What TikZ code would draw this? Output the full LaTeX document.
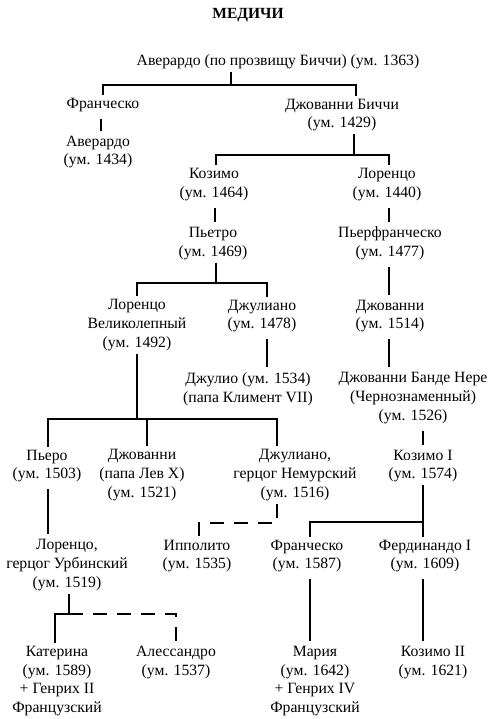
\documentclass[tikz,border=0pt]{standalone}
\usepackage{fontspec}
\setmainfont{Liberation Serif}
\begin{document}
\begin{tikzpicture}[x=1pt,y=-1pt,
  every node/.style={font=\fontsize{15.7}{18.6}\selectfont, align=center, inner xsep=0pt, inner ysep=3pt},
  conn/.style={line width=1.5pt},
  vconn/.style={line width=1.5pt, shorten <=4pt, shorten >=2pt},
  dconn/.style={line width=1.5pt, dash pattern=on 14pt off 10pt}]
\path[use as bounding box] (0,0) rectangle (495,719);

\node[font=\fontsize{15.5}{18}\selectfont\bfseries] (title) at (248,15) {МЕДИЧИ};
\node (top) at (278,62) {Аверардо (по прозвищу Биччи) (ум. 1363)};
\node (fr1) at (103,105) {Франческо};
\node (gb) at (342,115) {Джованни Биччи\\(ум. 1429)};
\node (av2) at (98,152) {Аверардо\\(ум. 1434)};
\node (koz) at (214,184.5) {Козимо\\(ум. 1464)};
\node (lor1) at (387,184.5) {Лоренцо\\(ум. 1440)};
\node (piet) at (213,243.5) {Пьетро\\(ум. 1469)};
\node (pierf) at (390,243.5) {Пьерфранческо\\(ум. 1477)};
\node (lorv) at (137,325) {Лоренцо\\Великолепный\\(ум. 1492)};
\node (jul1) at (262,316) {Джулиано\\(ум. 1478)};
\node (giov2) at (390,316) {Джованни\\(ум. 1514)};
\node (julio) at (248,389) {Джулио (ум. 1534)\\(папа Климент VII)};
\node (gbn) at (413,398) {Джованни Банде Нере\\(Чернознаменный)\\(ум. 1526)};
\node (piero) at (47,466) {Пьеро\\(ум. 1503)};
\node (giov3) at (142,475) {Джованни\\(папа Лев X)\\(ум. 1521)};
\node (julN) at (295,475) {Джулиано,\\герцог Немурский\\(ум. 1516)};
\node (koz1) at (423,466) {Козимо I\\(ум. 1574)};
\node (lorU) at (67,565) {Лоренцо,\\герцог Урбинский\\(ум. 1519)};
\node (ipp) at (197,556) {Ипполито\\(ум. 1535)};
\node (fr2) at (307,556) {Франческо\\(ум. 1587)};
\node (ferd) at (425,556) {Фердинандо I\\(ум. 1609)};
\node (kat) at (57,681) {Катерина\\(ум. 1589)\\+ Генрих II\\Французский};
\node (ales) at (176,662.5) {Алессандро\\(ум. 1537)};
\node (mar) at (315,681) {Мария\\(ум. 1642)\\+ Генрих IV\\Французский};
\node (koz2) at (433,662.5) {Козимо II\\(ум. 1621)};

% 1
\coordinate (j1) at (231,85);
\coordinate (j1l) at (103,85);
\coordinate (j1r) at (356,85);
\draw[conn] (top.south -| j1) -- (j1);
\draw[conn] (fr1.north -| j1l) -- (j1l) -- (j1r) -- (gb.north -| j1r);
% 2
\coordinate (x2) at (101,0);
\draw[vconn] (fr1.south -| x2) -- (av2.north -| x2);
% 3
\coordinate (j3) at (354,155);
\coordinate (j3l) at (216,155);
\coordinate (j3r) at (389,155);
\draw[conn] (gb.south -| j3) -- (j3);
\draw[conn] (koz.north -| j3l) -- (j3l) -- (j3r) -- (lor1.north -| j3r);
% 4, 5
\coordinate (x4) at (215,0);
\coordinate (x5) at (389,0);
\draw[vconn] (koz.south -| x4) -- (piet.north -| x4);
\draw[vconn] (lor1.south -| x5) -- (pierf.north -| x5);
% 6
\coordinate (j6) at (216,283);
\coordinate (j6l) at (137,283);
\coordinate (j6r) at (267,283);
\draw[conn] (piet.south -| j6) -- (j6);
\draw[conn] (lorv.north -| j6l) -- (j6l) -- (j6r) -- (jul1.north -| j6r);
% 7, 8, 9
\draw[vconn] (pierf.south -| x5) -- (giov2.north -| x5);
\coordinate (x8) at (267,0);
\draw[vconn] (jul1.south -| x8) -- (julio.north -| x8);
\draw[vconn] (giov2.south -| x5) -- (gbn.north -| x5);
% 10
\coordinate (j10) at (137,419);
\coordinate (j10a) at (48,419);
\coordinate (j10b) at (147,419);
\coordinate (j10c) at (277,419);
\draw[conn] (lorv.south -| j10) -- (j10);
\draw[conn] (piero.north -| j10a) -- (j10a) -- (j10c) -- (julN.north -| j10c);
\draw[conn] (j10b) -- (giov3.north -| j10b);
% 11
\coordinate (x11) at (423,0);
\draw[vconn] (gbn.south -| x11) -- (koz1.north -| x11);
% 12
\coordinate (j12) at (423,522);
\coordinate (j12l) at (310,522);
\draw[conn] (koz1.south -| j12) -- (j12) -- (ferd.north -| j12);
\draw[conn] (j12) -- (j12l) -- (fr2.north -| j12l);
% 13
\coordinate (j13) at (277,523);
\coordinate (j13l) at (199,523);
\draw[dconn] (julN.south -| j13) -- (j13) -- (j13l) -- (ipp.north -| j13l);
% 14
\coordinate (x14) at (48,0);
\draw[vconn] (piero.south -| x14) -- (lorU.north -| x14);
% 15
\coordinate (j15) at (69,614);
\coordinate (j15l) at (55,614);
\coordinate (j15r) at (176,614);
\draw[conn] (lorU.south -| j15) -- (j15) -- (j15l) -- (kat.north -| j15l);
\draw[dconn] (j15) -- (j15r) -- (ales.north -| j15r);
% 16, 17
\coordinate (x16) at (310,0);
\draw[vconn] (fr2.south -| x16) -- (mar.north -| x16);
\draw[vconn] (ferd.south -| x11) -- (koz2.north -| x11);
\end{tikzpicture}
\end{document}
